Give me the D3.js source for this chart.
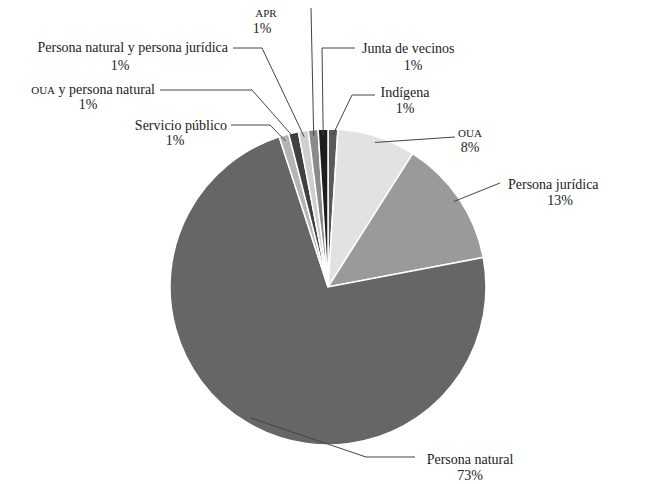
<!DOCTYPE html>
<html><head><meta charset="utf-8">
<script src="https://cdn.jsdelivr.net/npm/d3@7"></script>
<style>body{margin:0;background:#fff}text{font-family:"Liberation Serif","DejaVu Serif",serif;fill:#222}</style>
</head><body><svg id="c" width="650" height="484"></svg>
<script>
const categories = ["Indígena", "OUA", "Persona jurídica", "Persona natural", "Servicio público",
  "OUA y persona natural", "Persona natural y persona jurídica", "APR", "Junta de vecinos"];
const values = [1, 8, 13, 73, 1, 1, 1, 1, 1];
const labels = ["1%", "8%", "13%", "73%", "1%", "1%", "1%", "1%", "1%"];
const colors = ["#5a5a5a", "#e2e2e2", "#9a9a9a", "#666666", "#b4b4b4", "#404040", "#cfcfcf", "#8a8a8a", "#1e1e1e"];

// label layout: name pos, pct pos, anchor, font size, leader bends
const layout = [
  {n: [405, 97], p: [405, 113], a: "middle", fs: 14, pts: [[375, 95], [352, 95]]},
  {n: [470, 137], p: [470, 152], a: "middle", fs: 11, pts: [[455, 137]]},
  {n: [508, 189], p: [560, 205], a: "start", fs: 14, pts: [[500, 183]]},
  {n: [470, 464], p: [470, 480], a: "middle", fs: 14, pts: [[415, 457], [366, 457]]},
  {n: [227, 130], p: [175, 145], a: "end", fs: 14, pts: [[231, 125], [270, 125]]},
  {n: [155, 94], p: [88, 109], a: "end", fs: 14, small: "OUA", pts: [[160, 90], [252, 90]]},
  {n: [228, 52], p: [120, 70], a: "end", fs: 14, pts: [[233, 48], [262, 48]]},
  {n: [266, 17], p: [262, 33], a: "middle", fs: 11, pts: [[311, 8]]},
  {n: [362, 53], p: [413, 70], a: "start", fs: 14, pts: [[355, 48], [322, 48]]}
];

const cx = 328, cy = 287, r = 158;
const svg = d3.select("#c");
const g = svg.append("g").attr("transform", `translate(${cx},${cy})`);
const pie = d3.pie().sort(null).value(d => d)(values);
const arc = d3.arc().innerRadius(0).outerRadius(r);

g.selectAll("path").data(pie).enter().append("path")
  .attr("d", arc).attr("fill", (d, i) => colors[i])
  .attr("stroke", "#fff").attr("stroke-width", 1.5);

const edge = d3.arc().innerRadius(r - 6).outerRadius(r - 6);
pie.forEach((d, i) => {
  const L = layout[i];
  const c = edge.centroid(d);
  const start = [cx + c[0], cy + c[1]];
  const pts = L.pts.slice().reverse();
  pts.unshift(start);
  svg.append("path").attr("d", d3.line()(pts))
    .attr("fill", "none").attr("stroke", "#444").attr("stroke-width", 1);
  const t = svg.append("text").attr("x", L.n[0]).attr("y", L.n[1])
    .attr("text-anchor", L.a).attr("font-size", L.fs);
  if (L.small) {
    t.append("tspan").attr("font-size", 11).text(L.small);
    t.append("tspan").text(categories[i].slice(L.small.length));
  } else t.text(categories[i] === "OUA" || categories[i] === "APR" ? categories[i] : categories[i]);
  svg.append("text").attr("x", L.p[0]).attr("y", L.p[1])
    .attr("text-anchor", "middle").attr("font-size", 14).text(labels[i]);
});
</script></body></html>
